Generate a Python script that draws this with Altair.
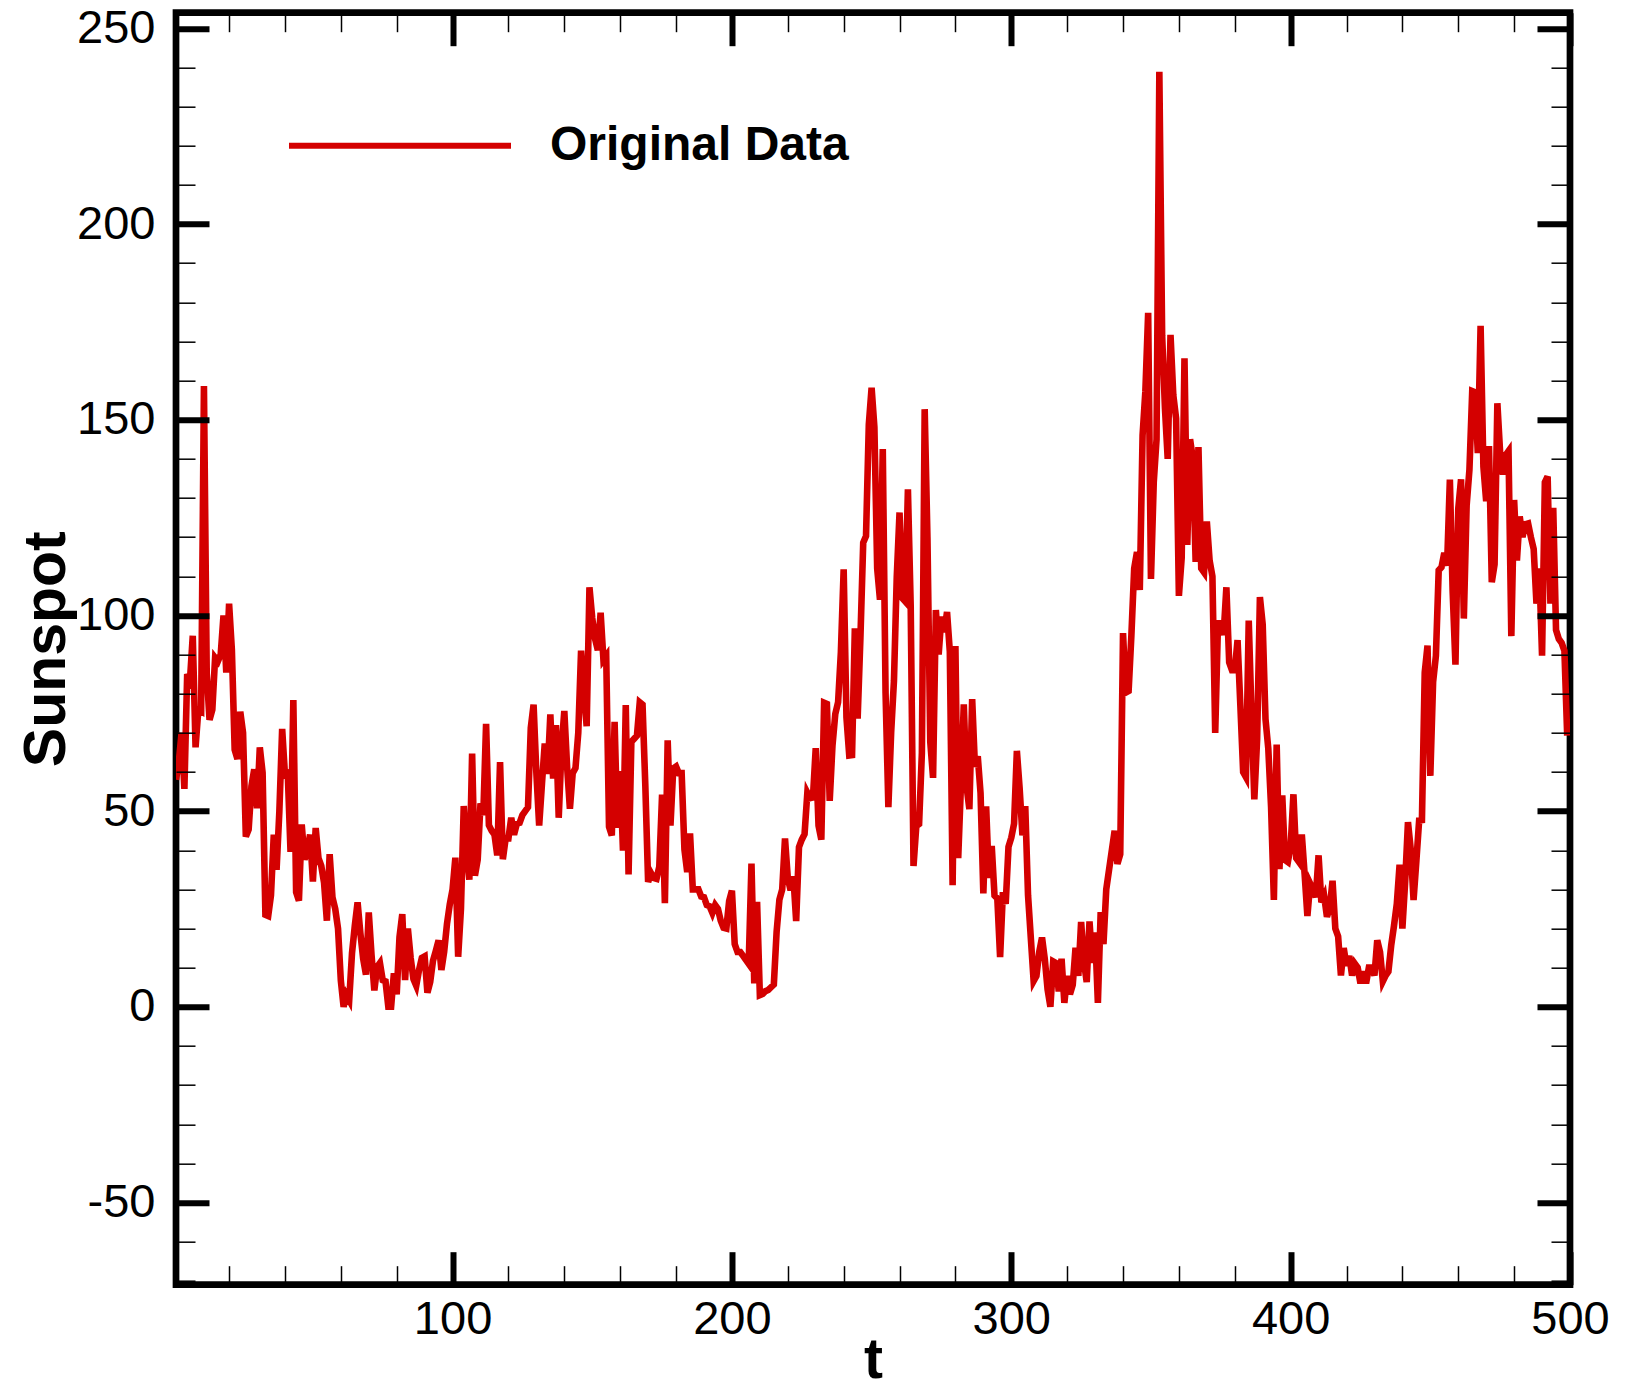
import altair as alt
import pandas as pd

# ---- monthly sunspot values (t = 1 .. 499) ----
SUN_A = [58.0, 62.6, 70.0, 55.7, 85.0, 83.5, 94.8, 66.3, 75.9, 75.5, 158.6, 85.2,
         73.3, 75.9, 89.2, 88.3, 90.0, 100.0, 85.4, 103.0, 91.2, 65.7, 63.3, 75.4,
         70.0, 43.5, 45.3, 56.4, 60.7, 50.7, 66.3, 59.8, 23.5, 23.2, 28.5, 44.0,
         35.0, 50.0, 71.0, 59.3, 59.7, 39.6, 78.4, 29.3, 27.1, 46.6, 37.6, 40.0,
         44.0, 32.0, 45.7, 38.0, 36.0, 31.7, 22.0, 39.0, 28.0, 25.0, 20.0, 6.7]
SUN_B = [0.0, 3.0, 1.7, 13.7, 20.7, 26.7, 18.8, 12.3, 8.2, 24.1, 13.2, 4.2,
         10.2, 11.2, 6.8, 6.5, 0.0, 0.0, 8.6, 3.2, 17.8, 23.7, 6.8, 20.0,
         12.5, 7.1, 5.4, 9.4, 12.5, 12.9, 3.6, 6.4, 11.8, 14.3, 17.0, 9.4,
         14.1, 21.2, 26.2, 30.0, 38.1, 12.8, 25.0, 51.3, 39.7, 32.5, 64.7, 33.5,
         37.6, 52.0, 49.0, 72.3, 46.4, 45.0, 44.0, 38.7, 62.5, 37.7, 43.0, 43.0]
SUN_C = [48.3, 44.0, 46.8, 47.0, 49.0, 50.0, 51.0, 71.3, 77.2, 59.7, 46.3, 57.0,
         67.3, 59.5, 74.7, 58.3, 72.0, 48.3, 66.0, 75.6, 61.3, 50.6, 59.7, 61.0,
         70.0, 91.0, 80.7, 71.7, 107.2, 99.3, 94.1, 91.1, 100.7, 88.7, 89.7, 46.0,
         43.8, 72.8, 45.7, 60.2, 39.9, 77.1, 33.8, 67.7, 68.5, 69.3, 77.8, 77.2,
         56.5, 31.9, 34.2, 32.9, 32.7, 35.8, 54.2, 26.5, 68.1, 46.3, 60.9, 61.4]
SUN_D = [59.7, 59.7, 40.2, 34.4, 44.3, 30.0, 30.0, 30.0, 28.2, 28.0, 26.0, 25.7,
         24.0, 26.0, 25.0, 22.0, 20.2, 20.0, 27.0, 29.7, 16.0, 14.0, 14.0, 13.0,
         12.0, 11.0, 36.6, 6.0, 26.8, 3.0, 3.3, 4.0, 4.3, 5.0, 5.7, 19.2,
         27.4, 30.0, 43.0, 32.9, 29.8, 33.3, 21.9, 40.8, 42.7, 44.1, 54.7, 53.3,
         53.5, 66.1, 46.3, 42.7, 77.7, 77.4, 52.6, 66.8, 74.8, 77.8, 90.6, 111.8]
SUN_E = [73.9, 64.2, 64.3, 96.7, 73.6, 94.4, 118.6, 120.3, 148.8, 158.2, 148.1, 112.0,
         104.0, 142.5, 80.1, 51.0, 70.1, 83.3, 109.8, 126.3, 104.4, 103.6, 132.2, 102.3,
         36.0, 46.2, 46.7, 64.9, 152.7, 119.5, 67.7, 58.5, 101.4, 90.0, 99.7, 95.7,
         100.9, 90.8, 31.1, 92.2, 38.0, 57.0, 77.3, 56.2, 50.5, 78.6, 61.3, 64.0,
         54.6, 29.0, 51.2, 32.9, 41.1, 28.4, 27.7, 12.7, 29.3, 26.3, 40.9, 43.2]
SUN_F = [46.8, 65.4, 55.7, 43.8, 51.3, 28.5, 17.5, 6.6, 7.9, 14.0, 17.7, 12.2,
         4.4, 0.0, 11.6, 11.2, 3.9, 12.3, 1.0, 7.9, 3.2, 5.6, 15.1, 7.9,
         21.7, 11.6, 6.3, 21.8, 11.2, 19.0, 1.0, 24.2, 16.0, 30.0, 35.0, 40.0,
         45.0, 36.5, 39.0, 95.5, 80.3, 80.7, 95.0, 112.0, 116.2, 106.5, 146.0, 157.3,
         177.3, 109.3, 134.0, 145.0, 238.9, 171.6, 153.0, 140.0, 171.7, 156.3, 150.3, 105.0]
SUN_G = [114.7, 165.7, 118.0, 145.0, 140.0, 113.7, 143.0, 112.0, 111.0, 124.0, 114.0, 110.0,
         70.0, 98.0, 98.0, 95.0, 107.2, 88.0, 86.0, 86.0, 93.7, 77.0, 60.0, 58.7,
         98.7, 74.7, 53.0, 68.3, 104.7, 97.7, 73.5, 66.0, 51.0, 27.3, 67.0, 35.2,
         54.0, 37.5, 37.0, 41.0, 54.3, 38.0, 37.0, 44.0, 34.0, 23.2, 31.5, 30.0,
         28.0, 38.7, 26.7, 28.3, 23.0, 25.2, 32.2, 20.0, 18.0, 8.0, 15.0, 10.5]
SUN_H = [13.0, 8.0, 11.0, 10.0, 6.0, 9.0, 6.0, 10.0, 10.0, 8.0, 17.0, 14.0,
         6.5, 8.0, 9.0, 15.7, 20.7, 26.3, 36.3, 20.0, 32.0, 47.2, 40.2, 27.3,
         37.2, 47.6, 47.7, 85.4, 92.3, 59.0, 83.0, 89.7, 111.5, 112.3, 116.0, 112.7,
         134.7, 106.0, 87.4, 127.2, 134.8, 99.2, 128.0, 137.2, 157.3, 157.0, 141.5, 174.0,
         138.0, 129.2, 143.3, 108.5, 113.0, 154.2, 141.5, 136.0, 141.0, 142.0, 94.7, 129.5]
SUN_I = [114.0, 125.3, 120.0, 123.3, 123.5, 120.0, 117.0, 103.0, 112.0, 89.7, 134.0, 135.5,
         103.0, 127.5, 96.3, 94.0, 93.0, 91.0, 69.3]

SERIES_NAME = "Original Data"
X_DOMAIN = [1, 500]
Y_DOMAIN = [-71, 254]
X_MAJOR = [100, 200, 300, 400, 500]
X_MINOR = [20, 40, 60, 80, 120, 140, 160, 180, 220, 240, 260, 280,
           320, 340, 360, 380, 420, 440, 460, 480]
Y_MAJOR = [-50, 0, 50, 100, 150, 200, 250]
Y_MINOR = [-70, -60, -40, -30, -20, -10, 10, 20, 30, 40, 60, 70, 80, 90,
           110, 120, 130, 140, 160, 170, 180, 190, 210, 220, 230, 240]

values = SUN_A + SUN_B + SUN_C + SUN_D + SUN_E + SUN_F + SUN_G + SUN_H + SUN_I
df = pd.DataFrame({
    "t": list(range(1, len(values) + 1)),
    "sunspot": values,
    "series": [SERIES_NAME] * len(values),
})

W, H = 1394, 1272
RED = "#d40000"
FONT = "Liberation Sans"

xs = alt.Scale(domain=X_DOMAIN, nice=False, zero=False)
ys = alt.Scale(domain=Y_DOMAIN, nice=False, zero=False)


def tick_axis(orient, vals, size, width, offset):
    return alt.Axis(orient=orient, values=vals, offset=offset, labels=False,
                    domain=False, grid=False, ticks=True, tickSize=size,
                    tickWidth=width, tickColor="black", title=None, zindex=2)


base = alt.Chart(df)

line = base.mark_line(strokeWidth=6.6, clip=True).encode(
    x=alt.X("t:Q", scale=xs, axis=alt.Axis(
        orient="bottom", values=X_MAJOR, ticks=False, tickSize=0, domain=False,
        grid=False, labelFont=FONT, labelFontSize=47, labelColor="black",
        labelPadding=12, labelFlush=False, labelOverlap=False,
        title="t", titleFont=FONT, titleFontSize=57, titleFontWeight="bold",
        titleColor="black", titleBaseline="alphabetic", titleX=W / 2, titleY=93)),
    y=alt.Y("sunspot:Q", scale=ys, axis=alt.Axis(
        orient="left", values=Y_MAJOR, ticks=False, tickSize=0, domain=False,
        grid=False, labelFont=FONT, labelFontSize=47, labelColor="black",
        labelPadding=21, labelOverlap=False, labelExpr="'' + datum.value",
        title="Sunspot", titleFont=FONT, titleFontSize=59, titleFontWeight="bold",
        titleColor="black", titleAngle=270, titleBaseline="alphabetic",
        titleX=-112, titleY=H / 2)),
    color=alt.Color("series:N",
                    scale=alt.Scale(domain=[SERIES_NAME], range=[RED]),
                    legend=alt.Legend(
                        orient="none", legendX=110, legendY=19, title=None,
                        symbolType="stroke", symbolSize=222 * 222,
                        symbolStrokeWidth=6, labelFont=FONT,
                        labelFontWeight="bold", labelFontSize=48,
                        labelColor="black", labelOffset=36, labelLimit=0,
                        padding=0)),
)

ghost = base.mark_line(opacity=0)

l_major_in = ghost.encode(
    x=alt.X("t:Q", scale=xs, axis=tick_axis("top", X_MAJOR, 33, 6, -H)),
    y=alt.Y("sunspot:Q", scale=ys, axis=tick_axis("right", Y_MAJOR, 33, 6, -W)),
)
l_minor_in = ghost.encode(
    x=alt.X("t:Q", scale=xs, axis=tick_axis("top", X_MINOR, 19, 1.5, -H)),
    y=alt.Y("sunspot:Q", scale=ys, axis=tick_axis("right", Y_MINOR, 19, 1.5, -W)),
)
r_major_in = ghost.encode(
    x=alt.X("t:Q", scale=xs, axis=tick_axis("bottom", X_MAJOR, 33, 6, -H)),
    y=alt.Y("sunspot:Q", scale=ys, axis=tick_axis("left", Y_MAJOR, 33, 6, -W)),
)
r_minor_in = ghost.encode(
    x=alt.X("t:Q", scale=xs, axis=tick_axis("bottom", X_MINOR, 19, 1.5, -H)),
    y=alt.Y("sunspot:Q", scale=ys, axis=tick_axis("left", Y_MINOR, 19, 1.5, -W)),
)

chart = alt.layer(line, l_major_in, l_minor_in, r_major_in, r_minor_in).resolve_scale(
    x="shared", y="shared"
).resolve_axis(
    x="independent", y="independent"
).properties(
    width=W, height=H,
    autosize=alt.AutoSizeParams(type="none"),
    padding={"left": 176, "top": 12.7, "right": 58, "bottom": 110},
    background="white",
).configure_view(
    stroke="black", strokeWidth=6.7
)

chart.save("out.html", embed_options={"renderer": "svg", "actions": False})
